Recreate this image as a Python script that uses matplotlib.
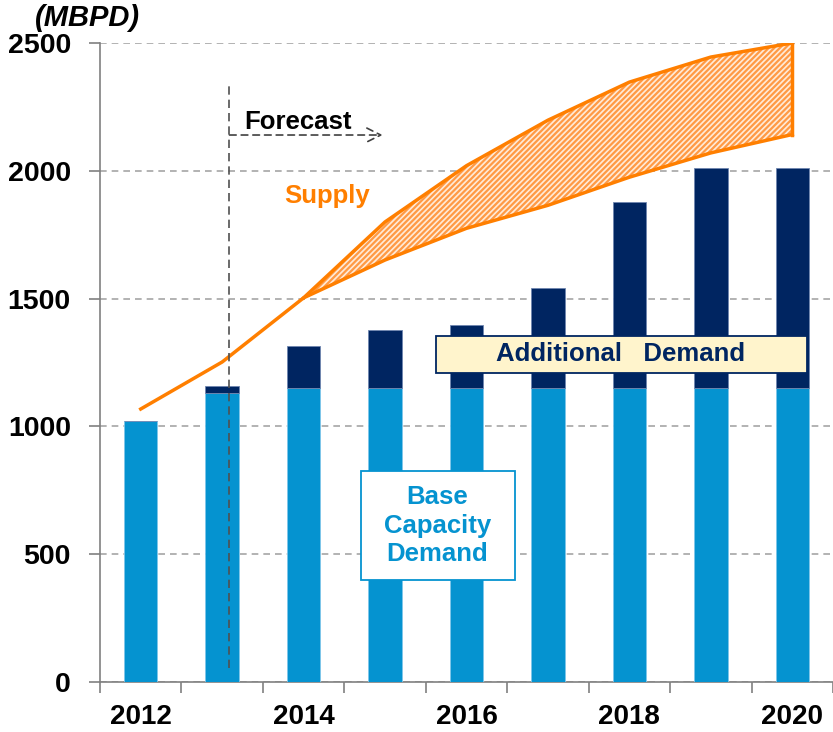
import matplotlib
matplotlib.use("Agg")
import matplotlib.pyplot as plt
from matplotlib.patches import Rectangle
import numpy as np

plt.rcParams['font.family'] = ['Liberation Sans', 'DejaVu Sans']
plt.rcParams['hatch.linewidth'] = 1.6

years = [2012, 2013, 2014, 2015, 2016, 2017, 2018, 2019, 2020]
base_demand = [1020, 1130, 1150, 1150, 1150, 1150, 1150, 1150, 1150]
total_demand = [1020, 1160, 1315, 1378, 1398, 1540, 1876, 2010, 2010]
supply_low = [1068, 1252, 1503, 1651, 1775, 1865, 1975, 2070, 2142]
supply_high_years = [2014, 2015, 2016, 2017, 2018, 2019, 2020]
supply_high = [1503, 1800, 2020, 2198, 2347, 2445, 2500]
yticks = [0, 500, 1000, 1500, 2000, 2500]
xlabels_years = [2012, 2014, 2016, 2018, 2020]

additional = [t - b for t, b in zip(total_demand, base_demand)]

C_BASE = '#0593D0'
C_ADD = '#002561'
C_ORANGE = '#FF7F00'
C_GRID = '#A6A6A6'

fig = plt.figure(figsize=(8.33, 7.32), dpi=100)
ax = fig.add_axes([100/833, 50/732, 733/833, 639/732])

ax.bar(years, base_demand, width=0.41, color=C_BASE, edgecolor='#7FC6EA', linewidth=0.6, zorder=3)
ax.bar(years, additional, bottom=base_demand, width=0.41, color=C_ADD, edgecolor='#6F86B0', linewidth=0.6, zorder=3)

# supply band
low_sub = supply_low[years.index(2014):]
ax.fill_between(supply_high_years, low_sub, supply_high, facecolor='#FFEBD8',
                edgecolor='#FF9A45', hatch='//////', linewidth=0, zorder=4)
ax.plot(years, supply_low, color=C_ORANGE, lw=2.5, zorder=5, solid_joinstyle='round')
ax.plot(supply_high_years, supply_high, color=C_ORANGE, lw=2.5, zorder=5, solid_joinstyle='round')
ax.plot([2020, 2020], [supply_low[-1], supply_high[-1]], color=C_ORANGE, lw=2.5, zorder=5)

# axes styling
ax.set_xlim(2011.5, 2020.46)
ax.set_ylim(0, 2500)
for s in ['top', 'right']:
    ax.spines[s].set_visible(False)
ax.spines['left'].set_color('#808080')
ax.spines['bottom'].set_color('#808080')
ax.spines['left'].set_linewidth(1.2)
ax.spines['bottom'].set_linewidth(1.2)
ax.set_yticks(yticks)
ax.set_yticklabels([str(v) for v in yticks], fontsize=20.5, fontweight='bold')
ax.yaxis.grid(True, linestyle=(0, (4, 3)), color=C_GRID, lw=1.2, zorder=0)
ax.set_axisbelow(True)
ax.tick_params(axis='y', length=8, color='#808080', width=1.2, pad=13)

ax.set_xticks(np.arange(2011.5, 2020.6, 1.0))
ax.set_xticklabels([])
ax.tick_params(axis='x', which='major', length=8, color='#808080', width=1.2)
ax.set_xticks(xlabels_years, minor=True)
ax.set_xticklabels([str(y) for y in xlabels_years], minor=True, fontsize=20, fontweight='bold')
ax.tick_params(axis='x', which='minor', length=0, pad=16)

# forecast line and arrow
ax.plot([2013.09, 2013.09], [55, 2345], color='#505050', lw=1.2, ls=(0, (5, 3)), zorder=6)
ax.annotate('', xy=(2014.97, 2140), xytext=(2013.09, 2140),
            arrowprops=dict(arrowstyle='->,head_length=1.0,head_width=0.5', color='#404040',
                            lw=1.2, linestyle=(0, (4, 3)), shrinkA=0, shrinkB=0), zorder=6)
ax.text(2013.27, 2190, 'Forecast', fontsize=18.5, fontweight='bold', color='black',
        ha='left', va='center', zorder=6)
ax.text(2013.76, 1900, 'Supply', fontsize=18.5, fontweight='bold', color=C_ORANGE,
        ha='left', va='center', zorder=6)

# Additional demand box
ax.add_patch(Rectangle((2015.62, 1209), 2020.18 - 2015.62, 1354 - 1209, facecolor='#FFF4CC',
                       edgecolor=C_ADD, lw=1.3, zorder=7))
ax.text(2017.89, 1283, 'Additional   Demand', fontsize=18.5, fontweight='bold', color=C_ADD,
        ha='center', va='center', zorder=8)
# Base capacity box
ax.add_patch(Rectangle((2014.70, 399), 2016.59 - 2014.70, 826 - 399, facecolor='white',
                       edgecolor=C_BASE, lw=1.3, zorder=7))
ax.text(2015.64, 612, 'Base\nCapacity\nDemand', fontsize=18.5, fontweight='bold', color=C_BASE,
        ha='center', va='center', zorder=8, linespacing=1.25)

fig.text(35/833, 1 - 18/732, '(MBPD)', fontsize=21, fontweight='bold', fontstyle='italic',
         ha='left', va='center')

fig.savefig('out.png', dpi=100)
